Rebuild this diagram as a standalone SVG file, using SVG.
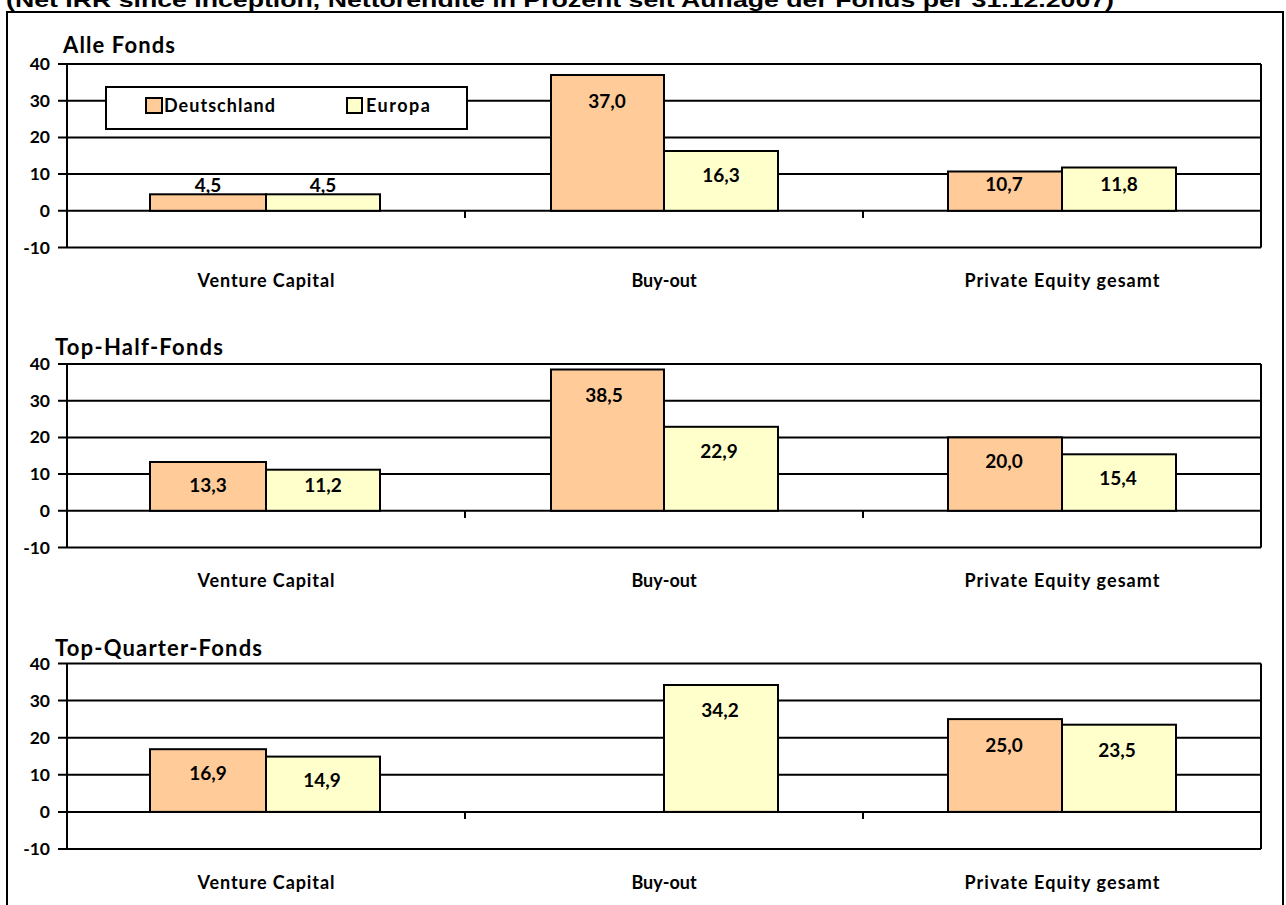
<svg xmlns="http://www.w3.org/2000/svg" width="1286" height="905" viewBox="0 0 1286 905">
<style>
.t{font-family:Lato,"Liberation Sans",sans-serif;font-weight:bold;fill:#000}
.ttl{font-size:22px}
.ax{font-size:17.5px;text-anchor:end}
.cat{font-size:18px;text-anchor:middle}
.val{font-size:19px;text-anchor:middle}
.leg{font-size:18px}
.grid{stroke:#000;stroke-width:2;fill:none}
.de{fill:#FFCC99;stroke:#000;stroke-width:2}
.eu{fill:#FFFFCC;stroke:#000;stroke-width:2}
</style>
<rect x="0" y="0" width="1286" height="905" fill="#fff"/>
<text x="6" y="7" font-family="'Liberation Sans',Arial,sans-serif" font-weight="bold" font-size="20" textLength="1108" lengthAdjust="spacingAndGlyphs">(Net IRR since Inception, Nettorendite in Prozent seit Auflage der Fonds per 31.12.2007)</text>
<rect x="7" y="12" width="1276" height="1000" fill="none" stroke="#000" stroke-width="2"/>

<g id="chart-alle-fonds">
<text class="t ttl" x="63" y="53" textLength="112" lengthAdjust="spacing">Alle Fonds</text>
<g class="grid">
<path d="M58 64H1261M58 100.7H1261M58 137.4H1261M58 174.1H1261M58 210.8H1261M58 247.5H1261M67 64V247.5M1261 64V247.5M465 210.8V218M863 210.8V218"/>
</g>
<text class="t ax" x="50" y="70">40</text>
<text class="t ax" x="50" y="107">30</text>
<text class="t ax" x="50" y="143">20</text>
<text class="t ax" x="50" y="180">10</text>
<text class="t ax" x="50" y="217">0</text>
<text class="t ax" x="50" y="254">-10</text>
<rect class="de" x="150" y="194.3" width="116" height="16.5"/>
<rect class="eu" x="266" y="194.3" width="114" height="16.5"/>
<rect class="de" x="551" y="75.0" width="113" height="135.8"/>
<rect class="eu" x="664" y="151.0" width="114" height="59.8"/>
<rect class="de" x="948" y="171.5" width="114" height="39.3"/>
<rect class="eu" x="1062" y="167.5" width="114" height="43.3"/>
<text class="t val" x="208" y="192">4,5</text>
<text class="t val" x="323" y="192">4,5</text>
<text class="t val" x="607" y="108">37,0</text>
<text class="t val" x="721" y="182">16,3</text>
<text class="t val" x="1004" y="191">10,7</text>
<text class="t val" x="1119" y="191">11,8</text>
<text class="t cat" x="266" y="287" textLength="137" lengthAdjust="spacing">Venture Capital</text>
<text class="t cat" x="664" y="287">Buy-out</text>
<text class="t cat" x="1062" y="287" textLength="195" lengthAdjust="spacing">Private Equity gesamt</text>
</g>

<g id="legend">
<rect x="106" y="87" width="361" height="42" fill="#fff" stroke="#000" stroke-width="2"/>
<rect class="de" x="146" y="98" width="16" height="15" stroke-width="1.5"/>
<text class="t leg" x="164" y="112" textLength="111" lengthAdjust="spacing">Deutschland</text>
<rect class="eu" x="347" y="98" width="15" height="15" stroke-width="1.5"/>
<text class="t leg" x="366" y="112" textLength="64" lengthAdjust="spacing">Europa</text>
</g>

<g id="chart-top-half">
<text class="t ttl" x="55" y="355" textLength="168" lengthAdjust="spacing">Top-Half-Fonds</text>
<g class="grid">
<path d="M58 364H1261M58 400.7H1261M58 437.4H1261M58 474.1H1261M58 510.8H1261M58 547.5H1261M67 364V547.5M1261 364V547.5M465 510.8V518M863 510.8V518"/>
</g>
<text class="t ax" x="50" y="370">40</text>
<text class="t ax" x="50" y="407">30</text>
<text class="t ax" x="50" y="443">20</text>
<text class="t ax" x="50" y="480">10</text>
<text class="t ax" x="50" y="517">0</text>
<text class="t ax" x="50" y="554">-10</text>
<rect class="de" x="150" y="462.0" width="116" height="48.8"/>
<rect class="eu" x="266" y="469.7" width="114" height="41.1"/>
<rect class="de" x="551" y="369.5" width="113" height="141.3"/>
<rect class="eu" x="664" y="426.8" width="114" height="84.0"/>
<rect class="de" x="948" y="437.4" width="114" height="73.4"/>
<rect class="eu" x="1062" y="454.3" width="114" height="56.5"/>
<text class="t val" x="208" y="492">13,3</text>
<text class="t val" x="323" y="492">11,2</text>
<text class="t val" x="604" y="402">38,5</text>
<text class="t val" x="719" y="458">22,9</text>
<text class="t val" x="1004" y="468">20,0</text>
<text class="t val" x="1118" y="485">15,4</text>
<text class="t cat" x="266" y="587" textLength="137" lengthAdjust="spacing">Venture Capital</text>
<text class="t cat" x="664" y="587">Buy-out</text>
<text class="t cat" x="1062" y="587" textLength="195" lengthAdjust="spacing">Private Equity gesamt</text>
</g>

<g id="chart-top-quarter">
<text class="t ttl" x="55" y="656" textLength="207" lengthAdjust="spacing">Top-Quarter-Fonds</text>
<g class="grid">
<path d="M58 663.5H1261M58 700.6H1261M58 737.7H1261M58 774.8H1261M58 811.9H1261M58 849H1261M67 663.5V849M1261 663.5V849M465 811.9V819M863 811.9V819"/>
</g>
<text class="t ax" x="50" y="670">40</text>
<text class="t ax" x="50" y="707">30</text>
<text class="t ax" x="50" y="744">20</text>
<text class="t ax" x="50" y="781">10</text>
<text class="t ax" x="50" y="818">0</text>
<text class="t ax" x="50" y="855">-10</text>
<rect class="de" x="150" y="749.2" width="116" height="62.7"/>
<rect class="eu" x="266" y="756.6" width="114" height="55.3"/>
<rect class="eu" x="664" y="685.0" width="114" height="126.9"/>
<rect class="de" x="948" y="719.1" width="114" height="92.8"/>
<rect class="eu" x="1062" y="724.7" width="114" height="87.2"/>
<text class="t val" x="208" y="780">16,9</text>
<text class="t val" x="322" y="787">14,9</text>
<text class="t val" x="720" y="717">34,2</text>
<text class="t val" x="1004" y="752">25,0</text>
<text class="t val" x="1117" y="757">23,5</text>
<text class="t cat" x="266" y="889" textLength="137" lengthAdjust="spacing">Venture Capital</text>
<text class="t cat" x="664" y="889">Buy-out</text>
<text class="t cat" x="1062" y="889" textLength="195" lengthAdjust="spacing">Private Equity gesamt</text>
</g>
</svg>
